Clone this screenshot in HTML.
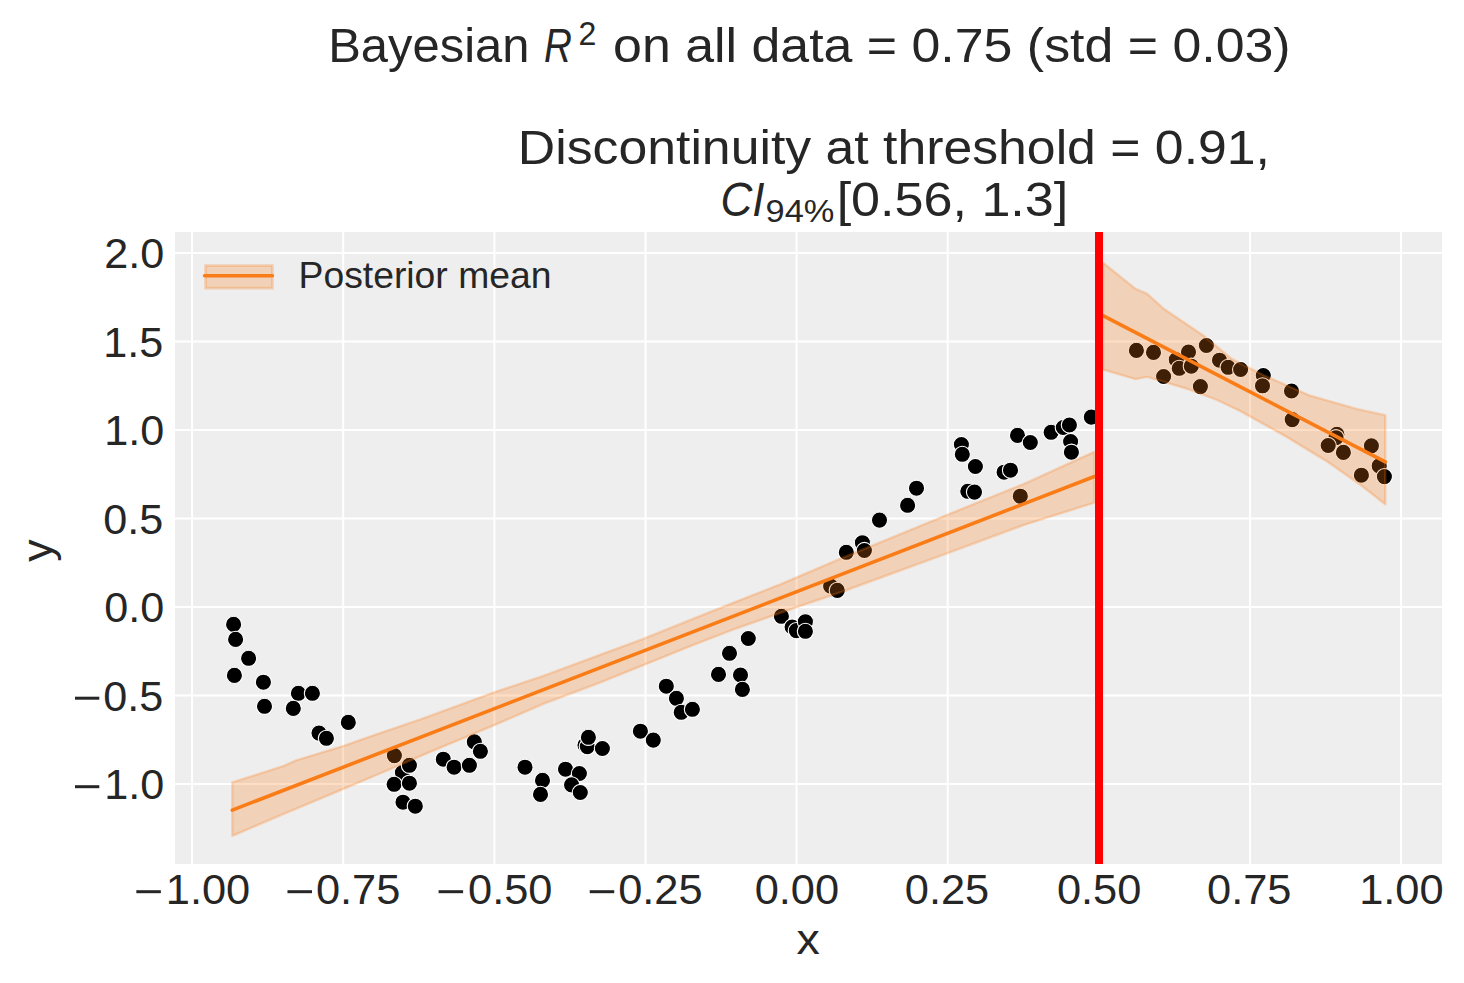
<!DOCTYPE html>
<html><head><meta charset="utf-8"><style>
html,body{margin:0;padding:0;background:#fff;width:1464px;height:983px;overflow:hidden}
svg{display:block}
</style></head><body>
<svg width="1464" height="983" viewBox="0 0 1464 983">
<rect width="1464" height="983" fill="#fff"/>
<rect x="175" y="232" width="1267" height="632" fill="#eeeeee"/>
<line x1="192.1" y1="232" x2="192.1" y2="864" stroke="#fff" stroke-width="2"/>
<line x1="343.2" y1="232" x2="343.2" y2="864" stroke="#fff" stroke-width="2"/>
<line x1="494.4" y1="232" x2="494.4" y2="864" stroke="#fff" stroke-width="2"/>
<line x1="645.5" y1="232" x2="645.5" y2="864" stroke="#fff" stroke-width="2"/>
<line x1="796.6" y1="232" x2="796.6" y2="864" stroke="#fff" stroke-width="2"/>
<line x1="947.7" y1="232" x2="947.7" y2="864" stroke="#fff" stroke-width="2"/>
<line x1="1098.8" y1="232" x2="1098.8" y2="864" stroke="#fff" stroke-width="2"/>
<line x1="1250.0" y1="232" x2="1250.0" y2="864" stroke="#fff" stroke-width="2"/>
<line x1="1401.1" y1="232" x2="1401.1" y2="864" stroke="#fff" stroke-width="2"/>
<line x1="175" y1="253.0" x2="1442" y2="253.0" stroke="#fff" stroke-width="2"/>
<line x1="175" y1="341.5" x2="1442" y2="341.5" stroke="#fff" stroke-width="2"/>
<line x1="175" y1="430.0" x2="1442" y2="430.0" stroke="#fff" stroke-width="2"/>
<line x1="175" y1="518.5" x2="1442" y2="518.5" stroke="#fff" stroke-width="2"/>
<line x1="175" y1="607.0" x2="1442" y2="607.0" stroke="#fff" stroke-width="2"/>
<line x1="175" y1="695.5" x2="1442" y2="695.5" stroke="#fff" stroke-width="2"/>
<line x1="175" y1="784.0" x2="1442" y2="784.0" stroke="#fff" stroke-width="2"/>
<circle cx="233.6" cy="624.4" r="8.1" fill="#000" stroke="#fff" stroke-width="1.1"/>
<circle cx="235.6" cy="639.4" r="8.1" fill="#000" stroke="#fff" stroke-width="1.1"/>
<circle cx="248.6" cy="658.3" r="8.1" fill="#000" stroke="#fff" stroke-width="1.1"/>
<circle cx="234.4" cy="675.4" r="8.1" fill="#000" stroke="#fff" stroke-width="1.1"/>
<circle cx="263.4" cy="682.2" r="8.1" fill="#000" stroke="#fff" stroke-width="1.1"/>
<circle cx="264.5" cy="706.3" r="8.1" fill="#000" stroke="#fff" stroke-width="1.1"/>
<circle cx="298.4" cy="693.3" r="8.1" fill="#000" stroke="#fff" stroke-width="1.1"/>
<circle cx="312.4" cy="693.3" r="8.1" fill="#000" stroke="#fff" stroke-width="1.1"/>
<circle cx="293.3" cy="708.4" r="8.1" fill="#000" stroke="#fff" stroke-width="1.1"/>
<circle cx="319.0" cy="733.1" r="8.1" fill="#000" stroke="#fff" stroke-width="1.1"/>
<circle cx="326.4" cy="738.3" r="8.1" fill="#000" stroke="#fff" stroke-width="1.1"/>
<circle cx="348.3" cy="722.4" r="8.1" fill="#000" stroke="#fff" stroke-width="1.1"/>
<circle cx="394.4" cy="755.6" r="8.1" fill="#000" stroke="#fff" stroke-width="1.1"/>
<circle cx="402.4" cy="772.6" r="8.1" fill="#000" stroke="#fff" stroke-width="1.1"/>
<circle cx="409.4" cy="765.3" r="8.1" fill="#000" stroke="#fff" stroke-width="1.1"/>
<circle cx="394.1" cy="784.3" r="8.1" fill="#000" stroke="#fff" stroke-width="1.1"/>
<circle cx="409.4" cy="783.2" r="8.1" fill="#000" stroke="#fff" stroke-width="1.1"/>
<circle cx="403.0" cy="802.2" r="8.1" fill="#000" stroke="#fff" stroke-width="1.1"/>
<circle cx="415.3" cy="806.2" r="8.1" fill="#000" stroke="#fff" stroke-width="1.1"/>
<circle cx="443.3" cy="759.2" r="8.1" fill="#000" stroke="#fff" stroke-width="1.1"/>
<circle cx="454.1" cy="767.2" r="8.1" fill="#000" stroke="#fff" stroke-width="1.1"/>
<circle cx="469.4" cy="765.3" r="8.1" fill="#000" stroke="#fff" stroke-width="1.1"/>
<circle cx="474.3" cy="741.8" r="8.1" fill="#000" stroke="#fff" stroke-width="1.1"/>
<circle cx="480.4" cy="751.3" r="8.1" fill="#000" stroke="#fff" stroke-width="1.1"/>
<circle cx="525.0" cy="767.2" r="8.1" fill="#000" stroke="#fff" stroke-width="1.1"/>
<circle cx="542.5" cy="780.4" r="8.1" fill="#000" stroke="#fff" stroke-width="1.1"/>
<circle cx="540.5" cy="794.4" r="8.1" fill="#000" stroke="#fff" stroke-width="1.1"/>
<circle cx="565.5" cy="769.2" r="8.1" fill="#000" stroke="#fff" stroke-width="1.1"/>
<circle cx="579.4" cy="773.5" r="8.1" fill="#000" stroke="#fff" stroke-width="1.1"/>
<circle cx="571.6" cy="784.9" r="8.1" fill="#000" stroke="#fff" stroke-width="1.1"/>
<circle cx="580.3" cy="792.5" r="8.1" fill="#000" stroke="#fff" stroke-width="1.1"/>
<circle cx="585.0" cy="745.2" r="8.1" fill="#000" stroke="#fff" stroke-width="1.1"/>
<circle cx="587.3" cy="746.6" r="8.1" fill="#000" stroke="#fff" stroke-width="1.1"/>
<circle cx="588.4" cy="737.3" r="8.1" fill="#000" stroke="#fff" stroke-width="1.1"/>
<circle cx="602.4" cy="748.5" r="8.1" fill="#000" stroke="#fff" stroke-width="1.1"/>
<circle cx="640.4" cy="731.2" r="8.1" fill="#000" stroke="#fff" stroke-width="1.1"/>
<circle cx="653.3" cy="740.1" r="8.1" fill="#000" stroke="#fff" stroke-width="1.1"/>
<circle cx="666.3" cy="686.2" r="8.1" fill="#000" stroke="#fff" stroke-width="1.1"/>
<circle cx="676.4" cy="698.3" r="8.1" fill="#000" stroke="#fff" stroke-width="1.1"/>
<circle cx="681.2" cy="712.3" r="8.1" fill="#000" stroke="#fff" stroke-width="1.1"/>
<circle cx="692.4" cy="709.3" r="8.1" fill="#000" stroke="#fff" stroke-width="1.1"/>
<circle cx="718.5" cy="674.4" r="8.1" fill="#000" stroke="#fff" stroke-width="1.1"/>
<circle cx="740.5" cy="675.0" r="8.1" fill="#000" stroke="#fff" stroke-width="1.1"/>
<circle cx="742.4" cy="689.4" r="8.1" fill="#000" stroke="#fff" stroke-width="1.1"/>
<circle cx="729.5" cy="653.3" r="8.1" fill="#000" stroke="#fff" stroke-width="1.1"/>
<circle cx="748.3" cy="638.5" r="8.1" fill="#000" stroke="#fff" stroke-width="1.1"/>
<circle cx="781.4" cy="616.3" r="8.1" fill="#000" stroke="#fff" stroke-width="1.1"/>
<circle cx="792.1" cy="627.0" r="8.1" fill="#000" stroke="#fff" stroke-width="1.1"/>
<circle cx="796.3" cy="630.6" r="8.1" fill="#000" stroke="#fff" stroke-width="1.1"/>
<circle cx="805.4" cy="621.7" r="8.1" fill="#000" stroke="#fff" stroke-width="1.1"/>
<circle cx="805.4" cy="631.3" r="8.1" fill="#000" stroke="#fff" stroke-width="1.1"/>
<circle cx="830.6" cy="586.1" r="8.1" fill="#000" stroke="#fff" stroke-width="1.1"/>
<circle cx="837.3" cy="590.4" r="8.1" fill="#000" stroke="#fff" stroke-width="1.1"/>
<circle cx="846.3" cy="552.3" r="8.1" fill="#000" stroke="#fff" stroke-width="1.1"/>
<circle cx="862.4" cy="542.7" r="8.1" fill="#000" stroke="#fff" stroke-width="1.1"/>
<circle cx="864.4" cy="550.5" r="8.1" fill="#000" stroke="#fff" stroke-width="1.1"/>
<circle cx="879.5" cy="520.1" r="8.1" fill="#000" stroke="#fff" stroke-width="1.1"/>
<circle cx="907.6" cy="505.3" r="8.1" fill="#000" stroke="#fff" stroke-width="1.1"/>
<circle cx="916.5" cy="488.2" r="8.1" fill="#000" stroke="#fff" stroke-width="1.1"/>
<circle cx="961.4" cy="444.5" r="8.1" fill="#000" stroke="#fff" stroke-width="1.1"/>
<circle cx="962.3" cy="454.3" r="8.1" fill="#000" stroke="#fff" stroke-width="1.1"/>
<circle cx="975.4" cy="466.5" r="8.1" fill="#000" stroke="#fff" stroke-width="1.1"/>
<circle cx="967.8" cy="491.3" r="8.1" fill="#000" stroke="#fff" stroke-width="1.1"/>
<circle cx="974.5" cy="492.1" r="8.1" fill="#000" stroke="#fff" stroke-width="1.1"/>
<circle cx="1004.1" cy="472.2" r="8.1" fill="#000" stroke="#fff" stroke-width="1.1"/>
<circle cx="1010.5" cy="470.2" r="8.1" fill="#000" stroke="#fff" stroke-width="1.1"/>
<circle cx="1017.5" cy="435.4" r="8.1" fill="#000" stroke="#fff" stroke-width="1.1"/>
<circle cx="1030.3" cy="442.5" r="8.1" fill="#000" stroke="#fff" stroke-width="1.1"/>
<circle cx="1020.3" cy="496.2" r="8.1" fill="#000" stroke="#fff" stroke-width="1.1"/>
<circle cx="1051.1" cy="432.3" r="8.1" fill="#000" stroke="#fff" stroke-width="1.1"/>
<circle cx="1063.3" cy="427.5" r="8.1" fill="#000" stroke="#fff" stroke-width="1.1"/>
<circle cx="1069.4" cy="425.0" r="8.1" fill="#000" stroke="#fff" stroke-width="1.1"/>
<circle cx="1070.6" cy="441.5" r="8.1" fill="#000" stroke="#fff" stroke-width="1.1"/>
<circle cx="1071.4" cy="452.2" r="8.1" fill="#000" stroke="#fff" stroke-width="1.1"/>
<circle cx="1091.3" cy="417.1" r="8.1" fill="#000" stroke="#fff" stroke-width="1.1"/>
<circle cx="1136.4" cy="350.4" r="8.1" fill="#000" stroke="#fff" stroke-width="1.1"/>
<circle cx="1153.5" cy="352.4" r="8.1" fill="#000" stroke="#fff" stroke-width="1.1"/>
<circle cx="1163.6" cy="376.5" r="8.1" fill="#000" stroke="#fff" stroke-width="1.1"/>
<circle cx="1176.3" cy="359.7" r="8.1" fill="#000" stroke="#fff" stroke-width="1.1"/>
<circle cx="1179.2" cy="368.3" r="8.1" fill="#000" stroke="#fff" stroke-width="1.1"/>
<circle cx="1188.5" cy="352.0" r="8.1" fill="#000" stroke="#fff" stroke-width="1.1"/>
<circle cx="1191.3" cy="366.2" r="8.1" fill="#000" stroke="#fff" stroke-width="1.1"/>
<circle cx="1200.4" cy="386.6" r="8.1" fill="#000" stroke="#fff" stroke-width="1.1"/>
<circle cx="1206.4" cy="345.5" r="8.1" fill="#000" stroke="#fff" stroke-width="1.1"/>
<circle cx="1219.5" cy="360.2" r="8.1" fill="#000" stroke="#fff" stroke-width="1.1"/>
<circle cx="1228.1" cy="367.3" r="8.1" fill="#000" stroke="#fff" stroke-width="1.1"/>
<circle cx="1240.6" cy="369.5" r="8.1" fill="#000" stroke="#fff" stroke-width="1.1"/>
<circle cx="1263.3" cy="375.5" r="8.1" fill="#000" stroke="#fff" stroke-width="1.1"/>
<circle cx="1262.5" cy="385.8" r="8.1" fill="#000" stroke="#fff" stroke-width="1.1"/>
<circle cx="1291.5" cy="391.0" r="8.1" fill="#000" stroke="#fff" stroke-width="1.1"/>
<circle cx="1292.2" cy="419.6" r="8.1" fill="#000" stroke="#fff" stroke-width="1.1"/>
<circle cx="1336.9" cy="434.3" r="8.1" fill="#000" stroke="#fff" stroke-width="1.1"/>
<circle cx="1336.0" cy="437.7" r="8.1" fill="#000" stroke="#fff" stroke-width="1.1"/>
<circle cx="1328.2" cy="445.5" r="8.1" fill="#000" stroke="#fff" stroke-width="1.1"/>
<circle cx="1343.4" cy="452.4" r="8.1" fill="#000" stroke="#fff" stroke-width="1.1"/>
<circle cx="1371.4" cy="445.8" r="8.1" fill="#000" stroke="#fff" stroke-width="1.1"/>
<circle cx="1361.4" cy="475.2" r="8.1" fill="#000" stroke="#fff" stroke-width="1.1"/>
<circle cx="1379.2" cy="465.9" r="8.1" fill="#000" stroke="#fff" stroke-width="1.1"/>
<circle cx="1384.4" cy="476.6" r="8.1" fill="#000" stroke="#fff" stroke-width="1.1"/>
<polygon points="232.3,782.4 283.9,765.8 296.2,760.3 343.0,746.1 380.0,733.1 421.0,719.2 494.8,692.1 544.0,675.7 600.0,654.8 642.6,639.2 693.4,618.7 734.4,602.3 780.3,584.3 840.0,558.9 948.5,514.3 1024.0,483.9 1094.4,451.8 1094.4,502.7 1024.0,524.9 948.5,552.8 840.0,592.5 796.7,607.2 736.0,628.5 693.4,644.9 642.6,665.4 600.0,682.6 544.0,703.6 494.8,724.9 424.3,754.4 383.5,772.0 343.0,789.2 283.9,813.8 232.3,835.9" fill="#fa7c17" fill-opacity="0.25" stroke="#fa7c17" stroke-opacity="0.25" stroke-width="2.4" stroke-linejoin="round"/>
<polygon points="1103.0,262.8 1135.6,288.9 1147.0,293.7 1163.3,308.4 1176.3,317.3 1204.0,336.0 1231.7,358.9 1264.2,375.5 1309.2,395.3 1357.6,409.2 1385.3,415.2 1385.3,504.3 1361.0,485.3 1326.5,461.1 1286.7,436.9 1240.0,410.9 1217.0,400.0 1187.7,389.0 1163.3,381.7 1147.0,376.8 1135.6,379.2 1103.0,369.5" fill="#fa7c17" fill-opacity="0.25" stroke="#fa7c17" stroke-opacity="0.25" stroke-width="2.4" stroke-linejoin="round"/>
<line x1="232.3" y1="810.1" x2="1094.4" y2="476.5" stroke="#fa7c17" stroke-width="3.6" stroke-linecap="round"/>
<line x1="1103" y1="315.7" x2="1385.3" y2="461.9" stroke="#fa7c17" stroke-width="3.6" stroke-linecap="round"/>
<rect x="1095" y="232" width="8" height="632" fill="#ff0000"/>
<rect x="205.6" y="265.6" width="66.8" height="22.6" fill="#fa7c17" fill-opacity="0.25" stroke="#fa7c17" stroke-opacity="0.25" stroke-width="2.8"/>
<line x1="204.6" y1="275.8" x2="272.4" y2="275.8" stroke="#fa7c17" stroke-width="3.6" stroke-linecap="round"/>
<text transform="translate(104.34,268.00) scale(1.0130,1)" font-size="42.6" font-family="Liberation Sans, sans-serif" fill="#262626">2.0</text>
<text transform="translate(103.24,356.50) scale(1.0130,1)" font-size="42.6" font-family="Liberation Sans, sans-serif" fill="#262626">1.5</text>
<text transform="translate(104.34,445.00) scale(1.0130,1)" font-size="42.6" font-family="Liberation Sans, sans-serif" fill="#262626">1.0</text>
<text transform="translate(103.24,533.50) scale(1.0130,1)" font-size="42.6" font-family="Liberation Sans, sans-serif" fill="#262626">0.5</text>
<text transform="translate(104.34,622.00) scale(1.0130,1)" font-size="42.6" font-family="Liberation Sans, sans-serif" fill="#262626">0.0</text>
<text transform="translate(103.24,710.50) scale(1.0130,1)" font-size="42.6" font-family="Liberation Sans, sans-serif" fill="#262626">0.5</text>
<rect x="75.0" y="696.70" width="24.3" height="3.0" fill="#262626"/>
<text transform="translate(104.34,799.00) scale(1.0130,1)" font-size="42.6" font-family="Liberation Sans, sans-serif" fill="#262626">1.0</text>
<rect x="75.0" y="785.20" width="24.3" height="3.0" fill="#262626"/>
<rect x="136.35" y="890.20" width="24.5" height="3.0" fill="#262626"/>
<text transform="translate(165.76,904.00) scale(1.0190,1)" font-size="42.6" font-family="Liberation Sans, sans-serif" fill="#262626">1.00</text>
<rect x="287.48" y="890.20" width="24.5" height="3.0" fill="#262626"/>
<text transform="translate(315.88,904.00) scale(1.0190,1)" font-size="42.6" font-family="Liberation Sans, sans-serif" fill="#262626">0.75</text>
<rect x="438.60" y="890.20" width="24.5" height="3.0" fill="#262626"/>
<text transform="translate(468.01,904.00) scale(1.0190,1)" font-size="42.6" font-family="Liberation Sans, sans-serif" fill="#262626">0.50</text>
<rect x="589.73" y="890.20" width="24.5" height="3.0" fill="#262626"/>
<text transform="translate(618.13,904.00) scale(1.0190,1)" font-size="42.6" font-family="Liberation Sans, sans-serif" fill="#262626">0.25</text>
<text transform="translate(754.66,904.00) scale(1.0190,1)" font-size="42.6" font-family="Liberation Sans, sans-serif" fill="#262626">0.00</text>
<text transform="translate(904.78,904.00) scale(1.0190,1)" font-size="42.6" font-family="Liberation Sans, sans-serif" fill="#262626">0.25</text>
<text transform="translate(1056.91,904.00) scale(1.0190,1)" font-size="42.6" font-family="Liberation Sans, sans-serif" fill="#262626">0.50</text>
<text transform="translate(1207.03,904.00) scale(1.0190,1)" font-size="42.6" font-family="Liberation Sans, sans-serif" fill="#262626">0.75</text>
<text transform="translate(1359.16,904.00) scale(1.0190,1)" font-size="42.6" font-family="Liberation Sans, sans-serif" fill="#262626">1.00</text>
<text transform="translate(796.50,954.10) scale(1.1121,1)" font-size="41.9" font-family="Liberation Sans, sans-serif" fill="#262626">x</text>
<text transform="translate(51.5,561.72) rotate(-90) scale(1.0543,1)" font-size="42.2" font-family="Liberation Sans, sans-serif" fill="#262626">y</text>
<text transform="translate(298.51,288.10) scale(1.0168,1)" font-size="36.7" font-family="Liberation Sans, sans-serif" fill="#262626">Posterior mean</text>
<text transform="translate(328.18,61.90) scale(1.0304,1)" font-size="47.5" font-family="Liberation Sans, sans-serif" fill="#262626">Bayesian</text>
<text transform="translate(543.94,61.80) scale(0.8134,1)" font-size="47.5" font-style="italic" font-family="Liberation Sans, sans-serif" fill="#262626">R</text>
<text transform="translate(578.60,44.80) scale(0.9843,1)" font-size="32.6" font-family="Liberation Sans, sans-serif" fill="#262626">2</text>
<text transform="translate(613.12,61.90) scale(1.0921,1)" font-size="47.5" font-family="Liberation Sans, sans-serif" fill="#262626">on all data = 0.75 (std = 0.03)</text>
<text transform="translate(517.86,163.80) scale(1.0896,1)" font-size="47.5" font-family="Liberation Sans, sans-serif" fill="#262626">Discontinuity at threshold = 0.91,</text>
<text transform="translate(720.38,215.60) scale(0.9277,1)" font-size="47.5" font-style="italic" font-family="Liberation Sans, sans-serif" fill="#262626">CI</text>
<text transform="translate(765.55,222.30) scale(1.0844,1)" font-size="31.7" font-family="Liberation Sans, sans-serif" fill="#262626">94%</text>
<text transform="translate(836.65,215.80) scale(1.0964,1)" font-size="47.5" font-family="Liberation Sans, sans-serif" fill="#262626">[0.56, 1.3]</text>
</svg>
</body></html>
